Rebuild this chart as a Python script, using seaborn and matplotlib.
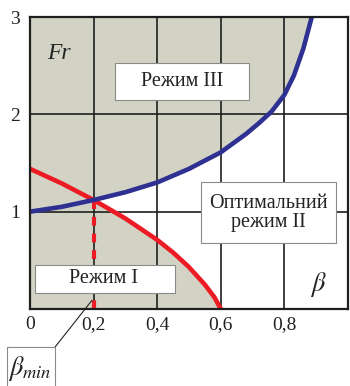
import matplotlib
matplotlib.use("Agg")
import matplotlib.pyplot as plt
from matplotlib.patches import Rectangle
import seaborn as sns
import pandas as pd

# Boundary of regime III (blue) and the limit of regime I (red)
blue_beta = [0.0, 0.1, 0.2, 0.3, 0.4, 0.5, 0.6, 0.68, 0.72, 0.76, 0.8, 0.83, 0.86, 0.886]
blue_fr = [1.0, 1.05, 1.12, 1.2, 1.3, 1.44, 1.61, 1.8, 1.91, 2.03, 2.2, 2.4, 2.68, 3.0]
red_beta = [0.0, 0.1, 0.2, 0.3, 0.4, 0.45, 0.5, 0.55, 0.58, 0.6]
red_fr = [1.44, 1.29, 1.12, 0.93, 0.71, 0.58, 0.43, 0.25, 0.12, 0.0]
beta_min = 0.2
fr_at_beta_min = 1.12

x_ticks = [0, 0.2, 0.4, 0.6, 0.8]
x_labels = ["0", "0,2", "0,4", "0,6", "0,8"]
y_ticks = [1, 2, 3]
y_labels = ["1", "2", "3"]

sns.set_style("white")
plt.rcParams["font.family"] = ["Liberation Serif", "DejaVu Serif"]
plt.rcParams["mathtext.fontset"] = "stix"

fig = plt.figure(figsize=(3.5, 3.86), dpi=100)
ax = fig.add_axes([30 / 350, 77 / 386, 318 / 350, 292 / 386])

shade = "#d3d3c5"
dark = "#1e1e1e"
blue = "#2e3192"
red = "#ed1c24"

# shaded regimes: above the blue curve and below the red curve
ax.fill_between(blue_beta, blue_fr, 3.0, color=shade, lw=0, zorder=0)
ax.fill_between(red_beta, 0, red_fr, color=shade, lw=0, zorder=0)

# grid
for gx in [0.2, 0.4, 0.6, 0.8]:
    ax.axvline(gx, color=dark, lw=1.2, zorder=1)
for gy in [1, 2]:
    ax.axhline(gy, color=dark, lw=1.2, zorder=1)

df_blue = pd.DataFrame({"beta": blue_beta, "Fr": blue_fr})
df_red = pd.DataFrame({"beta": red_beta, "Fr": red_fr})
sns.lineplot(data=df_blue, x="beta", y="Fr", color=blue, lw=3.3, ax=ax,
             sort=False, zorder=4)
sns.lineplot(data=df_red, x="beta", y="Fr", color=red, lw=3.3, ax=ax,
             sort=False, zorder=3)
ax.plot([beta_min, beta_min], [0, fr_at_beta_min], color=red, lw=3,
        ls=(0, (2.1, 1.9)), solid_capstyle="butt", zorder=3)

ax.set_xlim(0, 1)
ax.set_ylim(0, 3)
ax.set_xticks(x_ticks)
ax.set_xticklabels(x_labels)
ax.set_yticks(y_ticks)
ax.set_yticklabels(y_labels)
ax.tick_params(axis="both", length=0, labelsize=14, colors="#222222")
ax.tick_params(axis="x", pad=5)
ax.tick_params(axis="y", pad=7)
ax.set_xlabel("")
ax.set_ylabel("")
for s in ax.spines.values():
    s.set_color(dark)
    s.set_linewidth(1.6)
    s.set_zorder(5)

ax.text(0.092, 2.62, "Fr", fontsize=17, style="italic", ha="center",
        va="center", color="#222222")
ax.text(0.906, 0.25, r"$\beta$", fontsize=19, ha="center", va="center",
        color="#222222")


def label_box(x0, x1, y0, y1, text, tx, ty):
    ax.add_patch(Rectangle((x0, y0), x1 - x0, y1 - y0, fc="white",
                           ec="#8a8a8a", lw=0.8, zorder=6))
    ax.text(tx, ty, text, fontsize=14.5, ha="center", va="center",
            linespacing=1.0, color="#222222", zorder=7)


label_box(0.267, 0.689, 2.144, 2.526, "Режим III", 0.478, 2.335)
label_box(0.538, 0.962, 0.68, 1.30, "Оптимальний\nрежим II", 0.75, 0.99)
label_box(0.016, 0.456, 0.165, 0.454, "Режим I", 0.23, 0.31)

# beta_min callout below the axis
ax.plot([0.079, 0.195], [-0.39, 0.09], color="#222222", lw=0.8,
        clip_on=False, zorder=6)
ax.add_patch(Rectangle((-0.072, -0.82), 0.151, 0.43, fc="white",
                       ec="#8a8a8a", lw=0.8, clip_on=False, zorder=6))
ax.text(0.0, -0.61, r"$\beta_{min}$", fontsize=19, ha="center", va="center",
        color="#222222", zorder=7)

fig.savefig("out.png", dpi=100)
